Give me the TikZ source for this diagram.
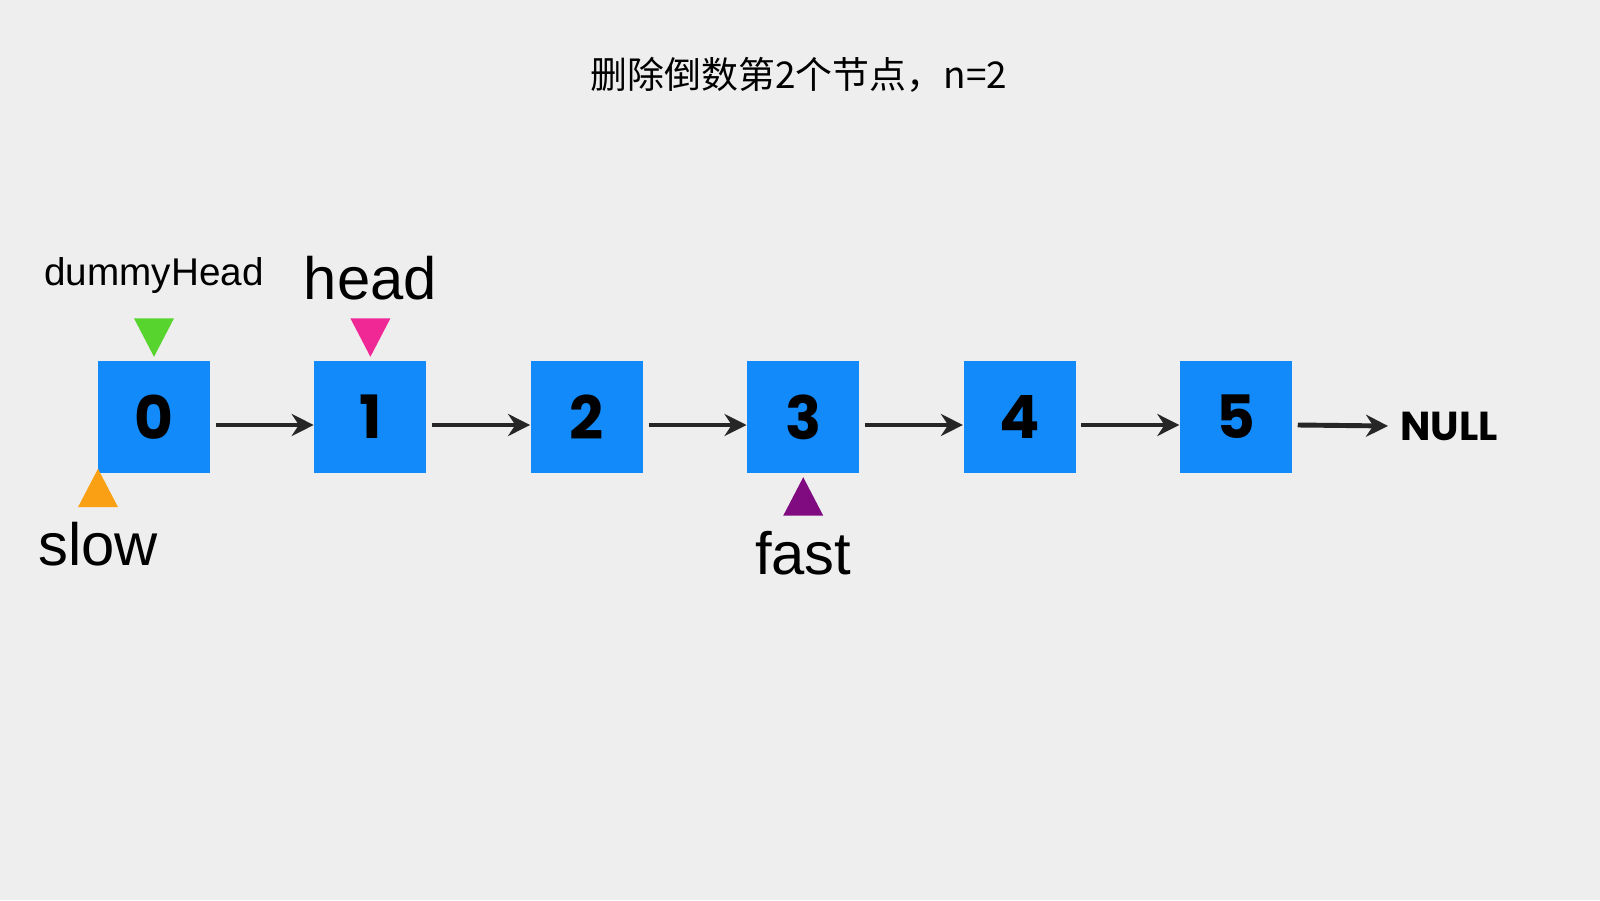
\documentclass[tikz,border=0pt]{standalone}
\usepackage{fontspec}
\setmainfont{Liberation Sans}
\newfontfamily\cjk{Noto Sans CJK SC}
\newfontfamily\numfont{Poppins}
\usetikzlibrary{arrows.meta, positioning, shapes.geometric}
\definecolor{bgray}{RGB}{238, 238, 238}
\definecolor{nodeblue}{RGB}{18, 138, 250}
\definecolor{ptrgreen}{RGB}{88, 212, 46}
\definecolor{ptrpink}{RGB}{240, 40, 150}
\definecolor{ptrorange}{RGB}{250, 160, 20}
\definecolor{ptrpurple}{RGB}{128, 10, 128}

\begin{document}
\begin{tikzpicture}[
    node distance=1.03cm,
    listnode/.style={rectangle, fill=nodeblue, minimum size=1.12cm, inner sep=0pt, font=\numfont\fontsize{17}{17}\selectfont\bfseries},
    link/.style={-{Stealth[length=2.2mm, width=2.2mm]}, line width=1.4pt, draw=black!85},
    ptrdown/.style={isosceles triangle, shape border rotate=-90, isosceles triangle apex angle=55, minimum width=0.4cm, minimum height=0.38cm, inner sep=0pt},
    ptrup/.style={ptrdown, shape border rotate=90},
    ptrlabel/.style={font=\fontsize{17}{17}\selectfont}
]
\fill[bgray] (0,0) rectangle (16,9);
\useasboundingbox (0,0) rectangle (16,9);

% Title
\node[font=\cjk\fontsize{10.5}{12}\selectfont] (title) at (7.99,8.25) {删除倒数第2个节点，n=2};

% List
\node[listnode] (n0) at (1.54,4.83) {0};
\node[listnode, right=of n0] (n1) {1};
\node[listnode, right=of n1] (n2) {2};
\node[listnode, right=of n2] (n3) {3};
\node[listnode, right=of n3] (n4) {4};
\node[listnode, right=of n4] (n5) {5};
\node[font=\numfont\fontsize{11.5}{12}\selectfont\bfseries, anchor=west] (null) at (13.88,4.74) {NULL};

% Links
\foreach \a/\b in {n0/n1, n1/n2, n2/n3, n3/n4, n4/n5}
    \draw[link] ([xshift=0.05cm, yshift=-0.08cm]\a.east) -- ([yshift=-0.08cm]\b.west);
\draw[link] ([xshift=0.05cm, yshift=-0.08cm]n5.east) -- (null.west);

% Pointers
\node[ptrdown, fill=ptrgreen, above=0.02cm of n0] (pdummy) {};
\node[font=\fontsize{11}{12}\selectfont, above=0.12cm of pdummy] (ldummy) {dummyHead};
\node[ptrdown, fill=ptrpink, above=0.02cm of n1] (phead) {};
\node[ptrlabel, above=0.05cm of phead] (lhead) {head};
\node[ptrup, fill=ptrorange] (pslow) at (0.98,4.05) {};
\node[ptrlabel, below=0.02cm of pslow] (lslow) {slow};
\node[ptrup, fill=ptrpurple, below=0.02cm of n3] (pfast) {};
\node[ptrlabel, below=0.02cm of pfast] (lfast) {fast};

\end{tikzpicture}
\end{document}
